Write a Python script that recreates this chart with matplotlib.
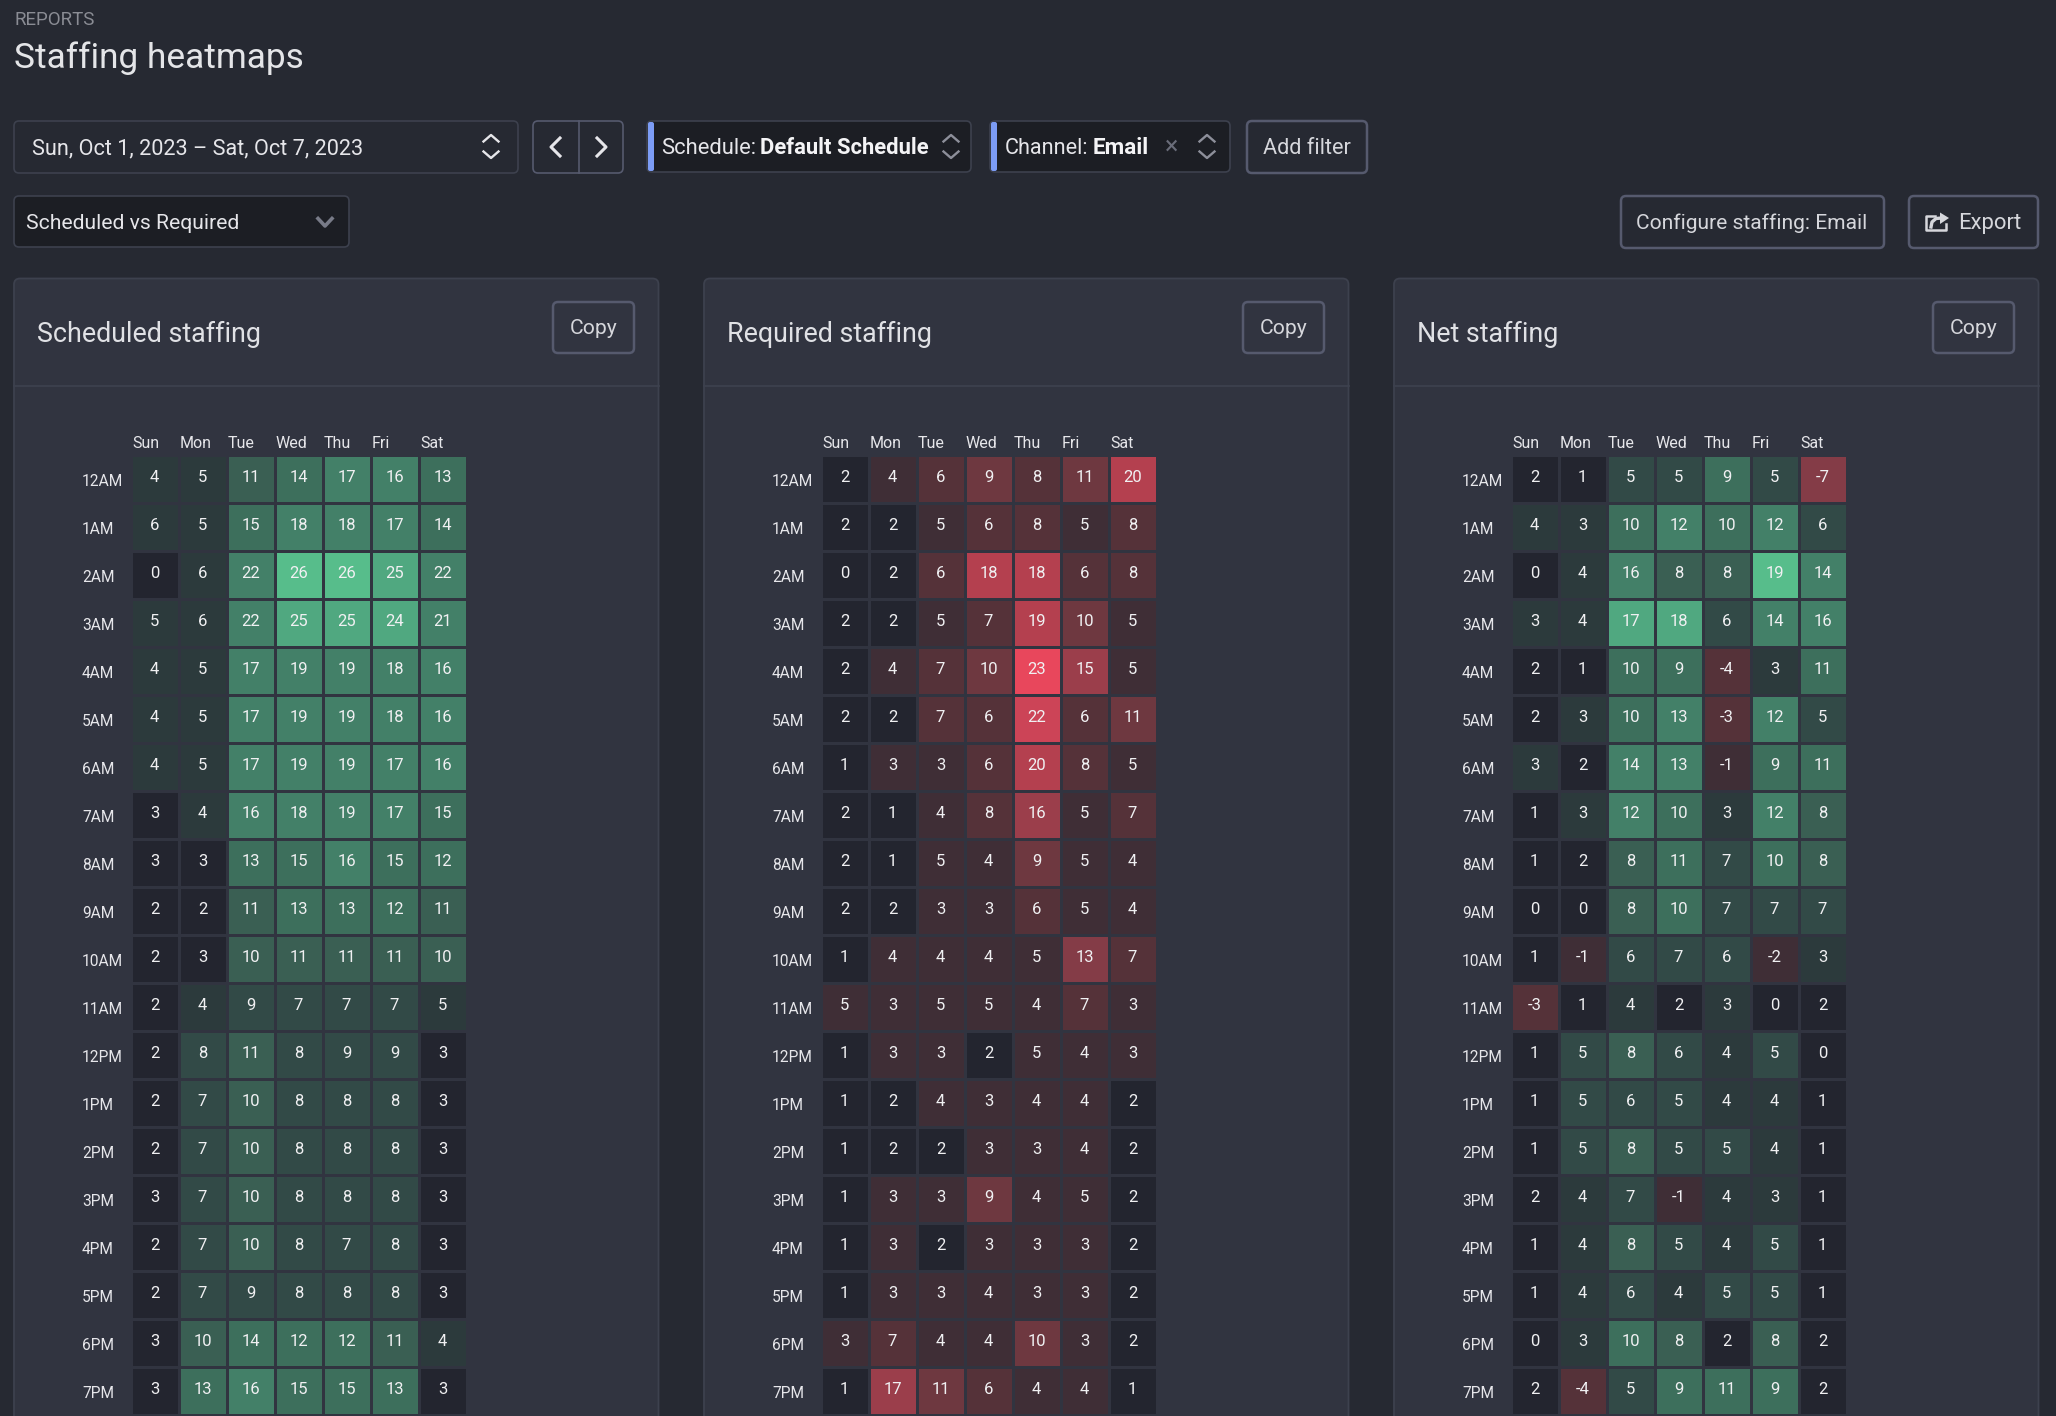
import matplotlib
matplotlib.use('Agg')
import matplotlib.pyplot as plt
from matplotlib.colors import ListedColormap, BoundaryNorm
from matplotlib.patches import FancyBboxPatch, Polygon
import numpy as np

plt.rcParams['font.family'] = ['Roboto', 'DejaVu Sans']

days = ['Sun', 'Mon', 'Tue', 'Wed', 'Thu', 'Fri', 'Sat']
hours = ['12AM', '1AM', '2AM', '3AM', '4AM', '5AM', '6AM', '7AM', '8AM', '9AM',
         '10AM', '11AM', '12PM', '1PM', '2PM', '3PM', '4PM', '5PM', '6PM', '7PM']

scheduled = [
    [4, 5, 11, 14, 17, 16, 13],
    [6, 5, 15, 18, 18, 17, 14],
    [0, 6, 22, 26, 26, 25, 22],
    [5, 6, 22, 25, 25, 24, 21],
    [4, 5, 17, 19, 19, 18, 16],
    [4, 5, 17, 19, 19, 18, 16],
    [4, 5, 17, 19, 19, 17, 16],
    [3, 4, 16, 18, 19, 17, 15],
    [3, 3, 13, 15, 16, 15, 12],
    [2, 2, 11, 13, 13, 12, 11],
    [2, 3, 10, 11, 11, 11, 10],
    [2, 4, 9, 7, 7, 7, 5],
    [2, 8, 11, 8, 9, 9, 3],
    [2, 7, 10, 8, 8, 8, 3],
    [2, 7, 10, 8, 8, 8, 3],
    [3, 7, 10, 8, 8, 8, 3],
    [2, 7, 10, 8, 7, 8, 3],
    [2, 7, 9, 8, 8, 8, 3],
    [3, 10, 14, 12, 12, 11, 4],
    [3, 13, 16, 15, 15, 13, 3],
]

required = [
    [2, 4, 6, 9, 8, 11, 20],
    [2, 2, 5, 6, 8, 5, 8],
    [0, 2, 6, 18, 18, 6, 8],
    [2, 2, 5, 7, 19, 10, 5],
    [2, 4, 7, 10, 23, 15, 5],
    [2, 2, 7, 6, 22, 6, 11],
    [1, 3, 3, 6, 20, 8, 5],
    [2, 1, 4, 8, 16, 5, 7],
    [2, 1, 5, 4, 9, 5, 4],
    [2, 2, 3, 3, 6, 5, 4],
    [1, 4, 4, 4, 5, 13, 7],
    [5, 3, 5, 5, 4, 7, 3],
    [1, 3, 3, 2, 5, 4, 3],
    [1, 2, 4, 3, 4, 4, 2],
    [1, 2, 2, 3, 3, 4, 2],
    [1, 3, 3, 9, 4, 5, 2],
    [1, 3, 2, 3, 3, 3, 2],
    [1, 3, 3, 4, 3, 3, 2],
    [3, 7, 4, 4, 10, 3, 2],
    [1, 17, 11, 6, 4, 4, 1],
]

net = [
    [2, 1, 5, 5, 9, 5, -7],
    [4, 3, 10, 12, 10, 12, 6],
    [0, 4, 16, 8, 8, 19, 14],
    [3, 4, 17, 18, 6, 14, 16],
    [2, 1, 10, 9, -4, 3, 11],
    [2, 3, 10, 13, -3, 12, 5],
    [3, 2, 14, 13, -1, 9, 11],
    [1, 3, 12, 10, 3, 12, 8],
    [1, 2, 8, 11, 7, 10, 8],
    [0, 0, 8, 10, 7, 7, 7],
    [1, -1, 6, 7, 6, -2, 3],
    [-3, 1, 4, 2, 3, 0, 2],
    [1, 5, 8, 6, 4, 5, 0],
    [1, 5, 6, 5, 4, 4, 1],
    [1, 5, 8, 5, 5, 4, 1],
    [2, 4, 7, -1, 4, 3, 1],
    [1, 4, 8, 5, 4, 5, 1],
    [1, 4, 6, 4, 5, 5, 1],
    [0, 3, 10, 8, 2, 8, 2],
    [2, -4, 5, 9, 11, 9, 2],
]

# colour buckets of each heatmap
dark = '#23252f'
greens = ['#2c3a3c', '#324a47', '#3a5f53', '#3d6f5c', '#438068', '#50a880', '#57bd8b']
reds = ['#3f2e36', '#553239', '#6e3840', '#843c47', '#9b3e4b', '#b4404f', '#cc4457', '#e8475c']

sched_colors = [dark] + greens
req_colors = [dark] + reds
net_colors = ['#843c47', '#553239', '#3f2e36', dark] + greens

sched_bounds = [-0.5, 3.5, 6.5, 9.5, 11.5, 15.5, 23, 25.5, 26.5]
req_bounds = [-0.5, 2.5, 5.5, 8.5, 11.5, 14.5, 17.5, 21, 22.5, 23.5]
net_bounds = [-7.5, -5.5, -2.5, -0.5, 2.5, 4.5, 7.5, 8.5, 11.5, 16.5, 18.5, 19.5]

W, H = 2056, 1416
page = '#262932'
panel = '#313440'
line = '#3d414e'
btn = '#565a6e'
inp = '#1c1e24'
txt = '#e6e6ea'
soft = '#d6d7dc'

fig = plt.figure(figsize=(W / 100, H / 100), dpi=100, facecolor=page)
bg = fig.add_axes([0, 0, 1, 1])
bg.set_xlim(0, W)
bg.set_ylim(H, 0)
bg.axis('off')


def box(x0, y0, x1, y1, fc, ec, lw=1.2, r=5, z=1):
    bg.add_patch(FancyBboxPatch((x0, y0), x1 - x0, y1 - y0, boxstyle=f'round,pad=0,rounding_size={r}',
                                fc=fc, ec=ec, lw=lw, zorder=z))


def label(x, y, s, size=15.5, color=txt, ha='left', **kw):
    bg.text(x, y, s, fontsize=size, color=color, ha=ha, va='center', zorder=5, **kw)


def updown(x, y, color='#c8c9d0'):
    bg.plot([x - 7.5, x, x + 7.5], [y - 5, y - 11.5, y - 5], color=color, lw=1.7, zorder=5)
    bg.plot([x - 7.5, x, x + 7.5], [y + 5, y + 11.5, y + 5], color=color, lw=1.7, zorder=5)


# header
label(14, 20, 'REPORTS', size=13.5, color='#8a8c94')
label(14, 58, 'Staffing heatmaps', size=25.4, color='#e4e5e8')

# first row of controls
box(14, 121, 518, 173, page, line)
label(32, 148.5, 'Sun, Oct 1, 2023 – Sat, Oct 7, 2023', size=15.6)
updown(491, 146.5, color=txt)

box(533, 121, 623, 173, page, btn)
bg.plot([578.5, 578.5], [121, 173], color=btn, lw=1.2, zorder=2)
bg.plot([560, 551, 560], [138, 147, 156], color=txt, lw=2.2, zorder=5)
bg.plot([597, 606, 597], [138, 147, 156], color=txt, lw=2.2, zorder=5)

box(647, 121, 971, 172, inp, line)
box(648, 122, 654, 171, '#7c9cf5', 'none', lw=0, r=2, z=2)
label(661, 148.5, 'Schedule:', size=15.8)
label(760, 148.5, 'Default Schedule', size=15.8, fontweight='bold', color='#f4f4f6')
updown(951, 146.5, color='#8d8f9a')

box(990, 121, 1230, 172, inp, line)
box(991, 122, 997, 171, '#7c9cf5', 'none', lw=0, r=2, z=2)
label(1005, 148.5, 'Channel:', size=15.6)
label(1093, 148.5, 'Email', size=16.2, fontweight='bold', color='#f4f4f6')
label(1172, 147, '×', size=18, color='#6a6d7a', ha='center')
updown(1207, 146.5, color='#8d8f9a')

box(1247, 121, 1367, 173, page, btn, lw=1.8)
label(1307, 148.5, 'Add filter', size=15.6, ha='center', color=soft)

# second row of controls
box(14, 196, 349, 247, inp, line)
label(26, 223.5, 'Scheduled vs Required', size=15.2)
bg.plot([318, 325, 332], [218.5, 226, 218.5], color='#787b88', lw=2.6, zorder=5)

box(1621, 196, 1884, 248, page, btn, lw=1.8)
label(1752, 223.5, 'Configure staffing: Email', size=15.1, ha='center', color=soft)
box(1909, 196, 2038, 248, page, btn, lw=1.8)
label(1958, 223.5, 'Export', size=15.8, color=soft)
# share icon of the export button
bg.plot([1935, 1925.5, 1925.5, 1945.5, 1945.5], [216, 216, 229.5, 229.5, 224], color=soft, lw=1.8, zorder=5)
bg.plot([1931, 1932, 1936, 1942], [227, 222, 218.5, 218], color=soft, lw=2.4, zorder=5)
bg.add_patch(Polygon([(1940, 212.5), (1949, 218), (1940, 224)], fc=soft, ec='none', zorder=5))

# panels
panels = [
    (14, 'Scheduled staffing', scheduled, sched_colors, sched_bounds),
    (704, 'Required staffing', required, req_colors, req_bounds),
    (1394, 'Net staffing', net, net_colors, net_bounds),
]

for x0, title, values, colors, bounds in panels:
    box(x0, 278.5, x0 + 644.5, 1470, panel, line, lw=1.3, r=6)
    bg.plot([x0, x0 + 644.5], [386, 386], color=line, lw=1.3, zorder=2)
    label(x0 + 23, 334.5, title, size=19.4, color='#e0e1e5')
    box(x0 + 539, 302, x0 + 620, 353, panel, btn, lw=1.8)
    label(x0 + 579.5, 328.5, 'Copy', size=15.2, ha='center', color=soft)

    cmap = ListedColormap(colors)
    norm = BoundaryNorm(bounds, cmap.N)

    # 48px cell pitch with a 3px gap
    ax = fig.add_axes([(x0 + 116.5) / W, 1 - 1414.5 / H, 336 / W, 960 / H])
    ax.set_facecolor(panel)
    ax.pcolormesh(np.arange(8), np.arange(21), np.array(values), cmap=cmap, norm=norm,
                  edgecolors=panel, linewidth=2.16)
    ax.set_xlim(0, 7)
    ax.set_ylim(20, 0)
    for s in ax.spines.values():
        s.set_visible(False)

    ax.xaxis.tick_top()
    ax.set_xticks(np.arange(7) + 0.03)
    ax.set_xticklabels(days, ha='left', fontsize=11.5, color=txt)
    ax.set_yticks(np.arange(20) + 0.56)
    ax.set_yticklabels(hours, ha='left', va='center', fontsize=11.2, color=txt)
    ax.tick_params(axis='x', length=0, pad=2.3)
    ax.tick_params(axis='y', length=0, pad=34.9)

    for r, row in enumerate(values):
        for c, v in enumerate(row):
            ax.text(c + 0.5, r + 0.48, str(v), ha='center', va='center', fontsize=12, color='#f0f0f2')

fig.savefig('out.png', dpi=100, facecolor=page)
